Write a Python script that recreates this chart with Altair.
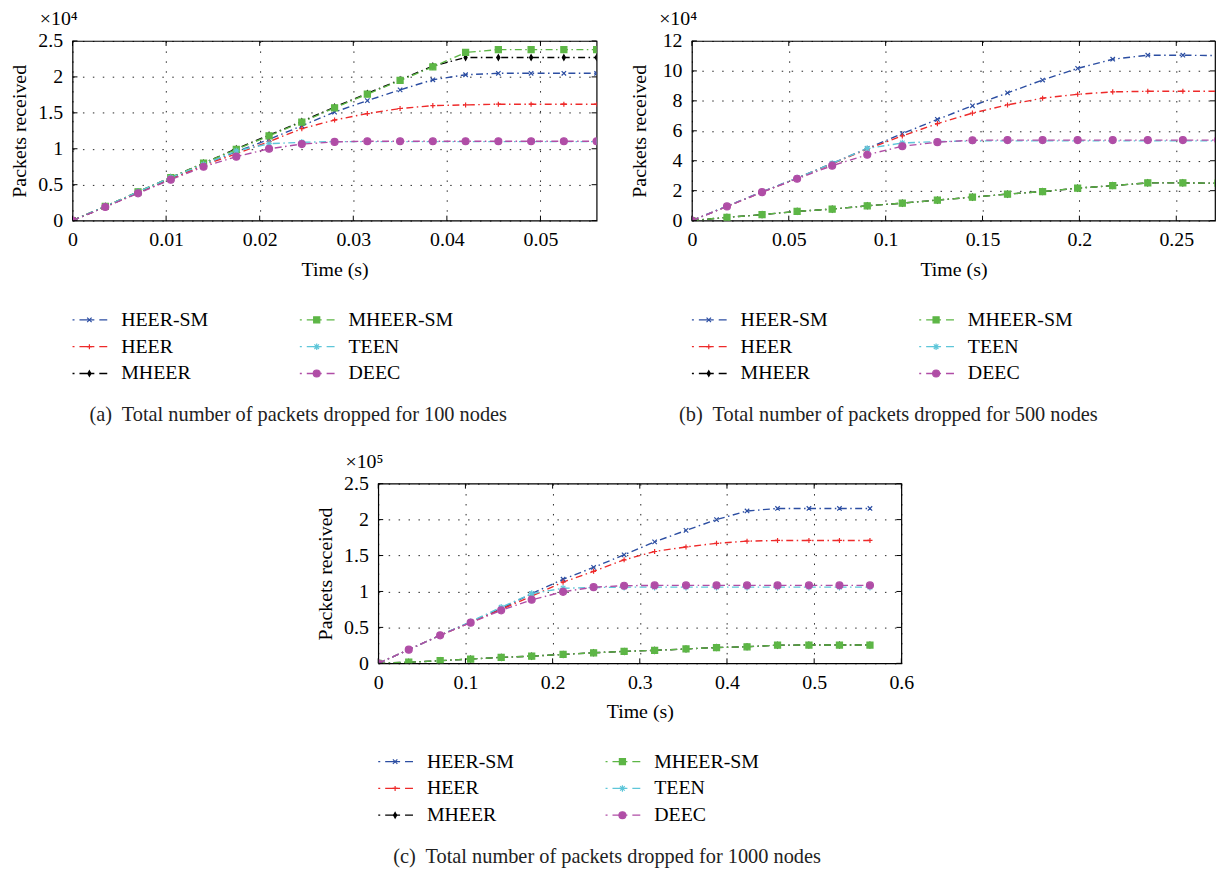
import altair as alt
import pandas as pd

SERIES = ["HEER-SM", "HEER", "MHEER", "MHEER-SM", "TEEN", "DEEC"]
COLORS = ["#2C4EA2", "#EE2A2A", "#000000", "#5DB646", "#5EC6D9", "#B04DA6"]

# marker shapes (unit box paths)
P_X = "M-1,-1L1,1M-1,1L1,-1"
P_PLUS = "M-1,0L1,0M0,-1L0,1"
P_DIAM = "M0,-1L0.55,0L0,1L-0.55,0Z"
P_SQ = "M-1,-1L1,-1L1,1L-1,1Z"
P_AST = "M-1,0L1,0M0,-1L0,1M-0.7,-0.7L0.7,0.7M-0.7,0.7L0.7,-0.7"
P_CIRC = "M1,0A1,1,0,1,1,-1,0A1,1,0,1,1,1,0Z"
SHAPES = [P_X, P_PLUS, P_DIAM, P_SQ, P_AST, P_CIRC]
PLOT_SIZES = [20, 49, 100, 42, 42, 52]
LEG_SIZES = [28, 100, 220, 81, 64, 100]

FONT = "Liberation Serif"

# ---------------- panel (a): 100 nodes, x10^4 ----------------
ta = [0, 0.0035, 0.007, 0.0105, 0.014, 0.0175, 0.021, 0.0245, 0.028, 0.0315,
      0.035, 0.0385, 0.042, 0.0455, 0.049, 0.0525, 0.056]
a_heer_sm = [0, 0.19, 0.39, 0.58, 0.78, 0.96, 1.13, 1.32, 1.51, 1.67, 1.82, 1.96, 2.03, 2.05, 2.05, 2.05, 2.05]
a_heer = [0, 0.19, 0.39, 0.58, 0.77, 0.93, 1.10, 1.28, 1.40, 1.49, 1.56, 1.60, 1.61, 1.62, 1.62, 1.62, 1.62]
a_mheer = [0, 0.20, 0.40, 0.60, 0.80, 1.00, 1.19, 1.38, 1.58, 1.77, 1.96, 2.15, 2.27, 2.27, 2.27, 2.27, 2.27]
a_mheer_sm = [0, 0.20, 0.40, 0.60, 0.80, 0.99, 1.18, 1.37, 1.57, 1.76, 1.95, 2.14, 2.34, 2.38, 2.38, 2.38, 2.38]
a_teen = [0, 0.20, 0.40, 0.60, 0.78, 0.97, 1.07, 1.09, 1.10, 1.10, 1.10, 1.10, 1.10, 1.10, 1.10, 1.10, 1.10]
a_deec = [0, 0.19, 0.38, 0.57, 0.75, 0.89, 1.00, 1.065, 1.095, 1.105, 1.105, 1.105, 1.105, 1.105, 1.105, 1.105, 1.105]
a_xticks = [0, 0.01, 0.02, 0.03, 0.04, 0.05]
a_yticks = [0, 0.5, 1, 1.5, 2, 2.5]

# ---------------- panel (b): 500 nodes, x10^4 ----------------
tb = [0, 0.0181, 0.0362, 0.0543, 0.0724, 0.0905, 0.1086, 0.1267, 0.1448, 0.1629,
      0.181, 0.1991, 0.2172, 0.2353, 0.2534, 0.2715]
b_heer_sm = [0, 0.97, 1.92, 2.85, 3.82, 4.82, 5.81, 6.76, 7.67, 8.53, 9.39, 10.17, 10.78, 11.05, 11.05, 11.02]
b_heer = [0, 0.95, 1.90, 2.83, 3.80, 4.78, 5.66, 6.48, 7.18, 7.73, 8.18, 8.44, 8.60, 8.64, 8.64, 8.64]
b_mheer = [0, 0.22, 0.40, 0.62, 0.77, 0.99, 1.17, 1.37, 1.57, 1.77, 1.94, 2.17, 2.34, 2.52, 2.52, 2.50]
b_mheer_sm = [0, 0.22, 0.40, 0.62, 0.77, 0.99, 1.17, 1.37, 1.57, 1.77, 1.94, 2.17, 2.34, 2.52, 2.52, 2.50]
b_teen = [0, 0.97, 1.92, 2.85, 3.82, 4.82, 5.19, 5.28, 5.32, 5.33, 5.33, 5.33, 5.33, 5.33, 5.33, 5.33]
b_deec = [0, 0.95, 1.90, 2.80, 3.67, 4.40, 4.97, 5.24, 5.37, 5.38, 5.38, 5.38, 5.38, 5.38, 5.38, 5.38]
b_xticks = [0, 0.05, 0.1, 0.15, 0.2, 0.25]
b_yticks = [0, 2, 4, 6, 8, 10, 12]

# ---------------- panel (c): 1000 nodes, x10^5 ----------------
tc = [0, 0.035, 0.071, 0.106, 0.141, 0.176, 0.212, 0.247, 0.282, 0.317,
      0.353, 0.388, 0.423, 0.458, 0.494, 0.529, 0.564]
c_heer_sm = [0, 0.19, 0.39, 0.575, 0.76, 0.97, 1.17, 1.335, 1.51, 1.69, 1.85, 2.00, 2.12, 2.155, 2.155, 2.155, 2.155]
c_heer = [0, 0.19, 0.39, 0.57, 0.75, 0.935, 1.13, 1.28, 1.44, 1.556, 1.62, 1.67, 1.70, 1.71, 1.71, 1.71, 1.71]
c_mheer = [0, 0.015, 0.037, 0.06, 0.083, 0.10, 0.124, 0.147, 0.166, 0.18, 0.20, 0.22, 0.23, 0.253, 0.255, 0.255, 0.255]
c_mheer_sm = [0, 0.015, 0.037, 0.06, 0.083, 0.10, 0.124, 0.147, 0.166, 0.18, 0.20, 0.22, 0.23, 0.253, 0.255, 0.255, 0.255]
c_teen = [0, 0.19, 0.39, 0.58, 0.78, 0.97, 1.045, 1.055, 1.06, 1.06, 1.06, 1.06, 1.06, 1.06, 1.06, 1.06, 1.06]
c_deec = [0, 0.19, 0.39, 0.566, 0.737, 0.884, 0.995, 1.06, 1.08, 1.085, 1.085, 1.085, 1.085, 1.085, 1.085, 1.085, 1.085]
c_xticks = [0, 0.1, 0.2, 0.3, 0.4, 0.5, 0.6]
c_yticks = [0, 0.5, 1, 1.5, 2, 2.5]

CAP_A = "(a)\u00a0 Total number of packets dropped for 100 nodes"
CAP_B = "(b)\u00a0 Total number of packets dropped for 500 nodes"
CAP_C = "(c)\u00a0 Total number of packets dropped for 1000 nodes"

H = 181
TICK = 5


def long_df(t, cols):
    rows = []
    for name, vals in zip(SERIES, cols):
        for x, v in zip(t, vals):
            rows.append({"t": x, "v": v, "series": name})
    return pd.DataFrame(rows)


color_sc = alt.Scale(domain=SERIES, range=COLORS)
shape_sc = alt.Scale(domain=SERIES, range=SHAPES)

COMMON_AX = dict(
    format="~g", grid=True, gridDash=[1.5, 8.5],
    gridColor="#000000", gridOpacity=0.85, gridWidth=1, ticks=False, domain=False,
    labelFont=FONT, labelFontSize=20, labelColor="#000000",
    labelOverlap=False, labelFlush=False, labelBound=False,
    titleFont=FONT, titleFontSize=20, titleFontWeight="normal", titleColor="#000000",
)


def plot(t, cols, xdom, ydom, xticks, yticks, exp_label, w):
    df = long_df(t, cols)
    xs = alt.Scale(domain=xdom, nice=False, zero=False)
    ys = alt.Scale(domain=ydom, nice=False, zero=False)
    xax = alt.Axis(title="Time (s)", values=xticks, labelPadding=9, titlePadding=10, **COMMON_AX)
    yax = alt.Axis(title="Packets received", values=yticks, labelPadding=10, titlePadding=8,
                   minExtent=35, maxExtent=35, **COMMON_AX)
    X = alt.X("t:Q", scale=xs, axis=xax)
    Y = alt.Y("v:Q", scale=ys, axis=yax)
    base = alt.Chart(df)
    line = base.mark_line(strokeDash=[7, 3.5, 1.5, 3.5], strokeWidth=1.4, clip=True).encode(
        x=X, y=Y, color=alt.Color("series:N", scale=color_sc, legend=None),
        detail="series:N",
    )
    pts = base.mark_point(opacity=1, strokeWidth=1.2, clip=True).encode(
        x=X, y=Y,
        color=alt.Color("series:N", scale=color_sc, legend=None),
        fill=alt.Fill("series:N", scale=color_sc, legend=None),
        shape=alt.Shape("series:N", scale=shape_sc, legend=None),
        size=alt.Size("series:N", scale=alt.Scale(domain=SERIES, range=PLOT_SIZES), legend=None),
    )
    xt = pd.DataFrame({"t": xticks})
    yt = pd.DataFrame({"v": yticks})
    xtick_b = alt.Chart(xt).mark_rule(color="#000000", strokeWidth=1).encode(
        x=X, y=alt.value(H), y2=alt.value(H - TICK))
    xtick_t = alt.Chart(xt).mark_rule(color="#000000", strokeWidth=1).encode(
        x=X, y=alt.value(0), y2=alt.value(TICK))
    ytick_l = alt.Chart(yt).mark_rule(color="#000000", strokeWidth=1).encode(
        y=Y, x=alt.value(0), x2=alt.value(TICK))
    ytick_r = alt.Chart(yt).mark_rule(color="#000000", strokeWidth=1).encode(
        y=Y, x=alt.value(w), x2=alt.value(w - TICK))
    expo = alt.Chart(pd.DataFrame({"e": [exp_label]})).mark_text(
        align="left", baseline="alphabetic", font=FONT, fontSize=20, color="#000000").encode(
        x=alt.value(-33), y=alt.value(-16), text="e:N")
    return alt.layer(line, pts, xtick_b, xtick_t, ytick_l, ytick_r, expo).properties(
        width=w, height=H,
        view=alt.ViewBackground(stroke="#000000", strokeWidth=1.2),
    )


def legend(caption, w, cap_dx):
    ldf = pd.DataFrame({"series": SERIES})
    ldf["col"] = [i // 3 for i in range(len(SERIES))]
    ldf["row"] = [i % 3 for i in range(len(SERIES))]
    lx = alt.X("col:Q", scale=alt.Scale(domain=[0, 1], range=[0, 229]), axis=None)
    ly = alt.Y("row:Q", scale=alt.Scale(domain=[0, 2], range=[0, 54]), axis=None)
    base = alt.Chart(ldf)
    seg = base.mark_rule(strokeDash=[2, 5, 15, 5, 8, 40], strokeWidth=1.3, x2Offset=35).encode(
        x=lx, x2=alt.X2("col:Q"), y=ly,
        color=alt.Color("series:N", scale=color_sc, legend=None))
    mk = base.mark_point(opacity=1, strokeWidth=1.2, xOffset=17).encode(
        x=lx, y=ly,
        color=alt.Color("series:N", scale=color_sc, legend=None),
        fill=alt.Fill("series:N", scale=color_sc, legend=None),
        shape=alt.Shape("series:N", scale=shape_sc, legend=None),
        size=alt.Size("series:N", scale=alt.Scale(domain=SERIES, range=LEG_SIZES), legend=None),
    )
    txt = base.mark_text(dx=49, align="left", baseline="middle", font=FONT, fontSize=20,
                         color="#000000").encode(x=lx, y=ly, text="series:N")
    cap = alt.Chart(pd.DataFrame({"c": [caption]})).mark_text(
        align="left", baseline="middle", font=FONT, fontSize=20.5, color="#222222").encode(
        x=alt.value(cap_dx), y=alt.value(96), text="c:N")
    return alt.layer(seg, mk, txt, cap).properties(width=w, height=54)


plotA = plot(ta, [a_heer_sm, a_heer, a_mheer, a_mheer_sm, a_teen, a_deec],
             [0, 0.056], [0, 2.5], a_xticks, a_yticks, "×10⁴", 528)
plotB = plot(tb, [b_heer_sm, b_heer, b_mheer, b_mheer_sm, b_teen, b_deec],
             [0, 0.27], [0, 12], b_xticks, b_yticks, "×10⁴", 527)
plotC = plot(tc, [c_heer_sm, c_heer, c_mheer, c_mheer_sm, c_teen, c_deec],
             [0, 0.6], [0, 2.5], c_xticks, c_yticks, "×10⁵", 527)

legA = legend(CAP_A, 528, 17)
legB = legend(CAP_B, 527, -13)
legC = legend(CAP_C, 527, 15)

colA = alt.vconcat(plotA, legA, spacing=100, bounds="flush")
colB = alt.vconcat(plotB, legB, spacing=100, bounds="flush")
top = alt.hconcat(colA, colB, spacing=30)

spacer = alt.Chart(pd.DataFrame({"z": [0]})).mark_point(opacity=0).properties(width=244, height=10)
colC = alt.vconcat(plotC, legC, spacing=99, bounds="flush")
bottom = alt.hconcat(spacer, colC, spacing=0)

chart = alt.vconcat(top, bottom, spacing=25).properties(
    padding={"left": 1, "top": -3, "right": 0, "bottom": 0}
).configure(font=FONT).configure_view(stroke="transparent").configure_axis(
    labelFont=FONT, labelFontSize=20, titleFont=FONT, titleFontSize=20,
    titleFontWeight="normal", labelColor="#000000", titleColor="#000000")

chart.save("out.html", embed_options={"renderer": "svg", "actions": False})
